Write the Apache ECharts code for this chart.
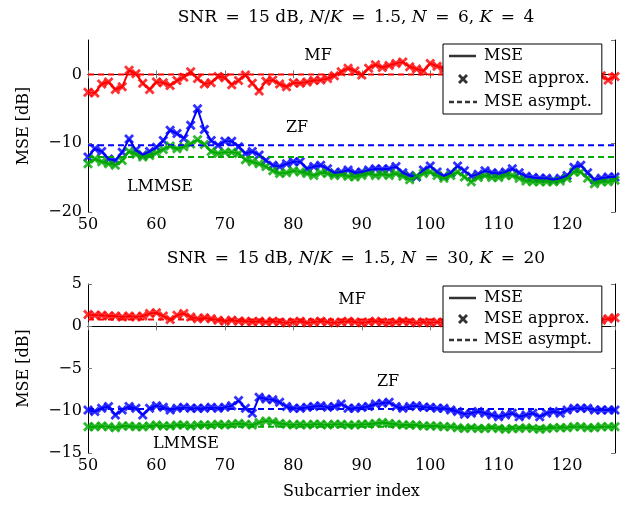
<!DOCTYPE html>
<html>
<head>
<meta charset="utf-8">
<script src="https://cdn.jsdelivr.net/npm/echarts@6/dist/echarts.min.js"></script>
<style>
  html, body { margin: 0; padding: 0; background: #fff; }
  #chart { width: 627px; height: 506px; }
</style>
</head>
<body>
<div id="chart"></div>
<script>
// subcarrier index 50..127
const subcarriers = Array.from({ length: 78 }, (_, k) => 50 + k);

// top panel: N = 6, K = 4
const topMF = [
  -2.6, -2.7, -1.4, -1.1, -2.2, -1.8, 0.6, 0.1, -1.3, -2.2,
  -1.1, -1.2, -1.6, -0.9, -0.4, 0.4, -0.6, -1.4, -1.2, -0.3,
  -0.5, -1.5, -0.9, -0.1, -1.3, -2.4, -1.0, -0.8, -1.4, -1.8,
  -1.2, -1.3, -1.1, -0.9, -0.8, -0.6, -0.2, 0.4, 0.9, 0.5,
  -0.1, 0.9, 1.4, 1.0, 1.3, 1.6, 1.8, 1.1, 0.8, 0.5,
  1.6, 1.2, 0.8, 0.5, 0.9, 0.4, 0.7, 1.1, 0.5, 0.8,
  0.3, 0.6, 1.0, 0.4, 0.2, 0.7, 0.3, -0.2, 0.4, 0.1,
  -0.3, 0.2, -0.4, -0.1, -0.5, -0.2, -0.8, -0.3
];
const topZF = [
  -12.0, -10.8, -11.2, -12.3, -12.5, -11.3, -9.4, -11.0, -11.7, -11.2,
  -10.6, -9.6, -8.1, -8.6, -9.3, -7.4, -5.0, -8.0, -9.6, -10.3,
  -9.7, -9.7, -10.5, -11.5, -11.2, -11.7, -12.5, -13.2, -13.4, -13.0,
  -12.7, -12.7, -13.7, -13.4, -13.2, -13.7, -14.3, -14.2, -13.9, -14.3,
  -14.2, -13.9, -13.7, -13.8, -13.7, -13.4, -14.3, -14.7, -14.9, -13.9,
  -13.3, -14.2, -14.8, -14.3, -13.3, -14.0, -14.8, -14.5, -14.0, -14.3,
  -14.4, -14.2, -13.7, -14.3, -14.8, -15.0, -15.1, -15.1, -15.3, -15.1,
  -14.7, -13.5, -13.2, -14.3, -15.3, -15.1, -14.9, -14.9
];
const topLMMSE = [
  -13.0, -12.3, -12.7, -13.0, -13.2, -12.5, -11.2, -11.6, -12.0, -11.8,
  -11.4, -10.9, -10.4, -10.8, -10.5, -10.1, -9.5, -10.2, -11.2, -11.5,
  -11.3, -11.3, -11.5, -12.4, -12.7, -13.0, -13.4, -14.0, -14.4, -14.3,
  -14.0, -14.2, -14.4, -14.7, -14.3, -14.4, -14.7, -14.6, -14.8, -14.9,
  -14.7, -14.4, -14.7, -14.5, -14.7, -14.4, -14.8, -15.3, -14.8, -14.4,
  -14.2, -14.7, -15.1, -14.7, -14.2, -14.9, -15.6, -15.0, -14.7, -15.0,
  -15.0, -14.7, -14.7, -15.1, -15.5, -15.6, -15.6, -15.6, -15.6, -15.5,
  -15.1, -14.2, -14.2, -15.1, -15.9, -15.6, -15.6, -15.4
];
const topAsympt = { MF: 0, ZF: -10.3, LMMSE: -12.0 };

// bottom panel: N = 30, K = 20
const botMF = [
  1.4, 1.3, 1.3, 1.2, 1.2, 1.1, 1.2, 1.1, 1.2, 1.5,
  1.6, 1.2, 0.8, 1.3, 1.5, 1.1, 0.9, 1.0, 0.9, 0.7,
  0.6, 0.7, 0.6, 0.6, 0.5, 0.6, 0.5, 0.6, 0.5, 0.4,
  0.5, 0.6, 0.4, 0.5, 0.6, 0.5, 0.4, 0.5, 0.6, 0.5,
  0.4, 0.5, 0.6, 0.5, 0.4, 0.5, 0.6, 0.5, 0.4, 0.5,
  0.4, 0.5, 0.4, 0.5, 0.6, 0.5, 0.4, 0.5, 0.6, 0.5,
  0.4, 0.5, 0.6, 0.5, 0.5, 0.6, 0.5, 0.6, 0.7, 0.6,
  0.7, 0.8, 0.7, 0.8, 0.9, 0.7, 0.9, 1.0
];
const botZF = [
  -9.9, -10.1, -9.7, -9.5, -10.5, -9.9, -9.5, -9.7, -10.5, -9.7,
  -9.4, -9.6, -9.9, -9.7, -9.6, -9.7, -9.7, -9.7, -9.6, -9.7,
  -9.6, -9.4, -8.8, -9.7, -10.3, -8.4, -8.6, -8.7, -9.0, -9.5,
  -9.7, -9.7, -9.6, -9.5, -9.4, -9.6, -9.5, -9.2, -9.7, -9.7,
  -9.6, -9.5, -9.2, -9.1, -9.0, -9.5, -9.7, -9.5, -9.4, -9.6,
  -9.6, -9.7, -9.7, -9.9, -10.1, -10.4, -10.3, -10.1, -10.3, -10.5,
  -10.7, -10.5, -10.3, -10.7, -10.5, -10.3, -10.7, -10.3, -10.1, -10.3,
  -9.9, -9.7, -9.7, -9.7, -9.9, -9.9, -9.9, -9.9
];
const botLMMSE = [
  -11.9, -11.9, -11.8, -11.9, -12.0, -11.8, -11.8, -11.9, -11.9, -11.8,
  -11.7, -11.8, -11.8, -11.7, -11.7, -11.8, -11.7, -11.7, -11.7, -11.6,
  -11.7, -11.6, -11.5, -11.6, -11.7, -11.4, -11.2, -11.3, -11.5, -11.6,
  -11.7, -11.6, -11.7, -11.6, -11.6, -11.7, -11.6, -11.6, -11.7, -11.7,
  -11.6, -11.6, -11.5, -11.4, -11.5, -11.6, -11.7, -11.7, -11.7, -11.8,
  -11.8, -11.8, -11.9, -11.9, -12.0, -12.1, -12.0, -12.1, -12.1, -12.0,
  -12.1, -12.2, -12.1, -12.1, -12.0, -12.1, -12.2, -12.1, -12.0, -12.0,
  -12.0, -11.9, -11.9, -12.0, -12.0, -11.9, -11.9, -11.9
];
const botAsympt = { MF: 0.8, ZF: -9.8, LMMSE: -11.9 };

const colors = { MF: '#ff0000', ZF: '#0000ff', LMMSE: '#00a800' };
const FONT = 'DejaVu Serif';
const crossPath = 'path://M0,2 L2,0 L5,3 L8,0 L10,2 L7,5 L10,8 L8,10 L5,7 L2,10 L0,8 L3,5 Z';

// legend icons: tiny corner specks keep the 28x10 box so shapes are not stretched
const SPECKS = 'M0,0h0.01v0.01h-0.01z M28,10h-0.01v-0.01h0.01z ';
const iconSolid = 'path://' + SPECKS + 'M0,3.8h27v2.4h-27z';
const iconDash = 'path://' + SPECKS + 'M0,3.8h5v2.4h-5z M8,3.8h5v2.4h-5z M16,3.8h5v2.4h-5z M24,3.8h4v2.4h-4z';
const iconCross = 'path://' + SPECKS + 'M9,2 L11,0 L14,3 L17,0 L19,2 L16,5 L19,8 L17,10 L14,7 L11,10 L9,8 L12,5 Z';

function minusFmt(v) {
  return v < 0 ? '\u2212' + Math.abs(v) : String(v);
}

function pairs(vals) {
  return subcarriers.map((x, k) => [x, vals[k]]);
}

function panelSeries(gi, curves, asympt) {
  const out = [];
  const ax = gi * 2;
  Object.keys(curves).forEach(name => {
    out.push({
      type: 'line', xAxisIndex: ax, yAxisIndex: ax,
      data: [[subcarriers[0], asympt[name]], [subcarriers[subcarriers.length - 1], asympt[name]]],
      symbol: 'none', silent: true,
      lineStyle: { color: colors[name], width: 2, type: [6, 4] }
    });
  });
  Object.keys(curves).forEach(name => {
    out.push({
      type: 'line', xAxisIndex: ax, yAxisIndex: ax,
      data: pairs(curves[name]),
      symbol: 'none', silent: true,
      lineStyle: { color: colors[name], width: 2 }
    });
    out.push({
      type: 'scatter', xAxisIndex: ax, yAxisIndex: ax,
      data: pairs(curves[name]),
      symbol: crossPath, symbolSize: 10, silent: true,
      itemStyle: { color: colors[name] }
    });
  });
  return out;
}

function xAxes(gi, showName) {
  return [{
    type: 'value', gridIndex: gi, min: 50, max: 127, interval: 10,
    axisLine: { lineStyle: { color: '#000', width: 1 } },
    axisTick: { inside: true, length: 4, lineStyle: { color: '#777' } },
    axisLabel: { color: '#000', fontFamily: FONT, fontSize: 16, margin: 5, showMaxLabel: false },
    splitLine: { show: false },
    name: showName ? 'Subcarrier index' : '',
    nameLocation: 'middle', nameGap: 31,
    nameTextStyle: { color: '#000', fontFamily: FONT, fontSize: 16 }
  }, {
    type: 'value', gridIndex: gi, min: 50, max: 127, interval: 10, position: 'top',
    axisLine: { lineStyle: { color: '#000', width: 1 } },
    axisTick: { inside: true, length: 4, lineStyle: { color: '#777' } },
    axisLabel: { show: false }, splitLine: { show: false }
  }];
}

function yAxes(gi, min, max, step) {
  return [{
    type: 'value', gridIndex: gi, min: min, max: max, interval: step,
    axisLine: { lineStyle: { color: '#000', width: 1 } },
    axisTick: { inside: true, length: 4, lineStyle: { color: '#777' } },
    axisLabel: { color: '#000', fontFamily: FONT, fontSize: 16, margin: 6, formatter: minusFmt,
      showMaxLabel: (max % step) === 0 },
    splitLine: { show: false },
    name: 'MSE [dB]', nameLocation: 'middle', nameGap: 56, nameRotate: 90,
    nameTextStyle: { color: '#000', fontFamily: FONT, fontSize: 16 }
  }, {
    type: 'value', gridIndex: gi, min: min, max: max, interval: step, position: 'right',
    axisLine: { lineStyle: { color: '#000', width: 1 } },
    axisTick: { inside: true, length: 4, lineStyle: { color: '#777' } },
    axisLabel: { show: false }, splitLine: { show: false }
  }];
}

const titleRich = {
  i: { fontFamily: FONT, fontSize: 17, fontStyle: 'italic', color: '#000' }
};

function legendAt(top, gap) {
  return {
    left: 443, top: top,
    orient: 'vertical', backgroundColor: '#fff', borderColor: '#000', borderWidth: 1,
    borderRadius: 0, padding: [4, 10, 4, 6], itemGap: gap, itemWidth: 28, itemHeight: 10,
    z: 20, selectedMode: false,
    textStyle: { fontFamily: FONT, fontSize: 16, color: '#000', padding: [0, 0, 0, 2] },
    data: [
      { name: 'MSE', icon: iconSolid },
      { name: 'MSE approx.', icon: iconCross },
      { name: 'MSE asympt.', icon: iconDash }
    ]
  };
}

function annot(x, y, text) {
  return {
    type: 'text', x: x, y: y, z: 5,
    style: { text: text, font: '16px "' + FONT + '"', fill: '#000', align: 'center', verticalAlign: 'middle' }
  };
}

const chart = echarts.init(document.getElementById('chart'), null, { renderer: 'canvas' });

const option = {
  animation: false,
  backgroundColor: '#fff',
  title: [{
    text: 'SNR\u2002=\u200215 dB, {i|N}/{i|K}\u2002=\u20021.5, {i|N}\u2002=\u20026, {i|K}\u2002=\u20024',
    left: 351, top: 4, textAlign: 'center',
    textStyle: { fontFamily: FONT, fontSize: 17, fontWeight: 'normal', color: '#000', rich: titleRich }
  }, {
    text: 'SNR\u2002=\u200215 dB, {i|N}/{i|K}\u2002=\u20021.5, {i|N}\u2002=\u200230, {i|K}\u2002=\u200220',
    left: 351, top: 245, textAlign: 'center',
    textStyle: { fontFamily: FONT, fontSize: 17, fontWeight: 'normal', color: '#000', rich: titleRich }
  }],
  grid: [
    { left: 88, right: 12, top: 40, height: 172 },
    { left: 88, right: 12, top: 284, height: 169 }
  ],
  xAxis: xAxes(0, false).concat(xAxes(1, true)),
  yAxis: yAxes(0, -20, 5, 10).concat(yAxes(1, -15, 5, 5)),
  legend: [legendAt(44, 7), legendAt(286, 5)],
  graphic: [
    annot(318, 56, 'MF'), annot(297, 128, 'ZF'), annot(160, 187, 'LMMSE'),
    annot(352, 300, 'MF'), annot(388, 382, 'ZF'), annot(186, 444, 'LMMSE')
  ],
  series: [
    { name: 'MSE', type: 'scatter', data: [], itemStyle: { color: '#000' } },
    { name: 'MSE approx.', type: 'scatter', data: [], itemStyle: { color: '#000' } },
    { name: 'MSE asympt.', type: 'scatter', data: [], itemStyle: { color: '#000' } }
  ].concat(
    panelSeries(0, { MF: topMF, ZF: topZF, LMMSE: topLMMSE }, topAsympt),
    panelSeries(1, { MF: botMF, ZF: botZF, LMMSE: botLMMSE }, botAsympt)
  )
};

chart.setOption(option);
</script>
</body>
</html>
